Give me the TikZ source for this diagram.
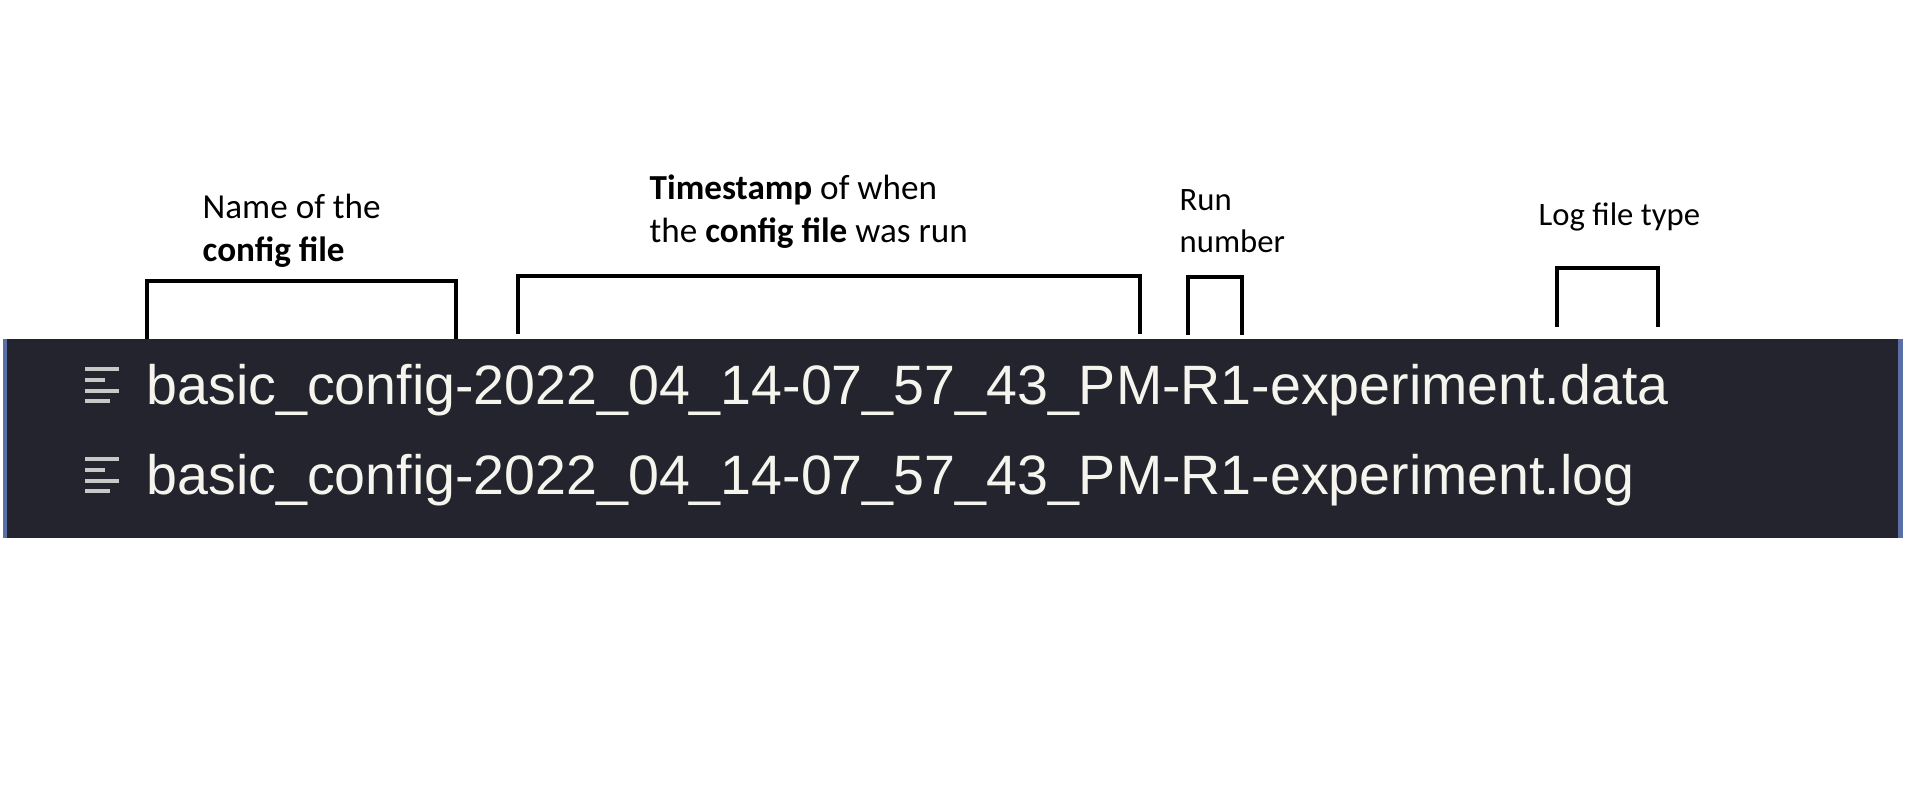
\documentclass[tikz,border=0pt]{standalone}
\usepackage{fontspec}
\setmainfont{Carlito}
\newfontfamily\filefont{Liberation Sans}
\usepackage{xcolor}
\definecolor{panelgray}{HTML}{23242E}
\definecolor{panelblue}{HTML}{5A6FA8}
\definecolor{filewhite}{HTML}{F5F5EE}
\definecolor{icongray}{HTML}{C8C8C8}
\usetikzlibrary{positioning}
\tikzset{
  labeltext/.style={font=\fontsize{10}{12.2}\selectfont, align=left, anchor=west, inner sep=0pt, text=black},
  smalllabel/.style={labeltext, font=\fontsize{9.3}{11.9}\selectfont},
  filetext/.style={font=\filefont\fontsize{15.8}{20}\selectfont, anchor=base west, inner sep=0pt, text=filewhite},
  bracket/.style={draw=black, line width=0.9pt},
  iconline/.style={icongray, line width=1.1pt}
}
\begin{document}
\begin{tikzpicture}
  \useasboundingbox (0,0) rectangle (19.06,7.98);

  % dark panel with the two thin side strips
  \fill[panelgray] (0.03,2.595) rectangle (19.03,4.59);
  \fill[panelblue] (0.03,2.595) rectangle (0.07,4.59);
  \fill[panelblue] (18.98,2.595) rectangle (19.03,4.59);

  % file names
  \node[filetext] (datafile) at (1.46,3.93) {basic\_config-2022\_04\_14-07\_57\_43\_PM-R1-experiment.data};
  \node[filetext] (logfile) at (1.46,3.03) {basic\_config-2022\_04\_14-07\_57\_43\_PM-R1-experiment.log};

  % list icons
  \foreach \y in {4.29,3.39} {
    \draw[iconline] (0.85,\y) -- (1.19,\y);
    \draw[iconline] (0.85,\y-0.11) -- (1.05,\y-0.11);
    \draw[iconline] (0.85,\y-0.22) -- (1.19,\y-0.22);
    \draw[iconline] (0.85,\y-0.32) -- (1.10,\y-0.32);
  }

  % brackets above the name
  \draw[bracket] (1.47,4.59) -- (1.47,5.17) -- (4.56,5.17) -- (4.56,4.59);
  \draw[bracket] (5.18,4.64) -- (5.18,5.22) -- (11.40,5.22) -- (11.40,4.64);
  \draw[bracket] (11.88,4.63) -- (11.88,5.21) -- (12.42,5.21) -- (12.42,4.63);
  \draw[bracket] (15.57,4.71) -- (15.57,5.30) -- (16.58,5.30) -- (16.58,4.71);

  % labels
  \node[labeltext] (configlabel) at (2.02,5.67) {Name of the\\\textbf{config file}};
  \node[labeltext] (timelabel) at (6.49,5.865) {\textbf{Timestamp} of when\\the \textbf{config file} was run};
  \node[smalllabel] (runlabel) at (11.79,5.77) {Run\\number};
  \node[smalllabel] (typelabel) at (15.38,5.81) {Log file type};
\end{tikzpicture}
\end{document}
